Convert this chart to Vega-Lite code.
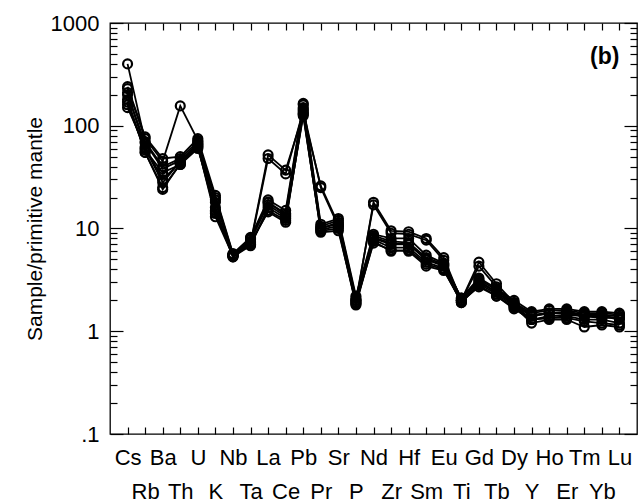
{
 "$schema": "https://vega.github.io/schema/vega-lite/v6.json",
 "width": 527, "height": 411,
 "autosize": "none",
 "padding": {"left": 110, "top": 23, "right": 7, "bottom": 69},
 "background": "white",
 "config": {
  "view": {"stroke": "black", "strokeWidth": 1.3},
  "font": "Liberation Sans",
  "axis": {"grid": false, "domain": false, "tickColor": "black", "tickWidth": 1.2, "labelColor": "black", "labelFont": "Liberation Sans", "labelFontSize": 22, "titleFont": "Liberation Sans", "titleFontSize": 21, "titleFontWeight": "normal", "titleColor": "black"}
 },
 "datasets": {
  "lab": [{"t": "(b)", "e": "Lu", "v": 470}],
  "pts": [
   {"s":1,"e":"Cs","v":210},{"s":1,"e":"Rb","v":60},{"s":1,"e":"Ba","v":28},{"s":1,"e":"Th","v":45},{"s":1,"e":"U","v":68},{"s":1,"e":"K","v":15},{"s":1,"e":"Nb","v":5.4},{"s":1,"e":"Ta","v":7.2},{"s":1,"e":"La","v":52},{"s":1,"e":"Ce","v":37},{"s":1,"e":"Pb","v":130},{"s":1,"e":"Pr","v":26},{"s":1,"e":"Sr","v":11},{"s":1,"e":"P","v":1.9},{"s":1,"e":"Nd","v":18},{"s":1,"e":"Zr","v":9.5},{"s":1,"e":"Hf","v":9.3},{"s":1,"e":"Sm","v":8},{"s":1,"e":"Eu","v":5.2},{"s":1,"e":"Ti","v":2.0},{"s":1,"e":"Gd","v":4.7},{"s":1,"e":"Tb","v":2.9},{"s":1,"e":"Dy","v":1.9},{"s":1,"e":"Y","v":1.4},{"s":1,"e":"Ho","v":1.5},{"s":1,"e":"Er","v":1.5},{"s":1,"e":"Tm","v":1.45},{"s":1,"e":"Yb","v":1.45},{"s":1,"e":"Lu","v":1.4},
   {"s":2,"e":"Cs","v":180},{"s":2,"e":"Rb","v":55},{"s":2,"e":"Ba","v":25},{"s":2,"e":"Th","v":42},{"s":2,"e":"U","v":62},{"s":2,"e":"K","v":14},{"s":2,"e":"Nb","v":5.5},{"s":2,"e":"Ta","v":7},{"s":2,"e":"La","v":48},{"s":2,"e":"Ce","v":34},{"s":2,"e":"Pb","v":140},{"s":2,"e":"Pr","v":25},{"s":2,"e":"Sr","v":10.5},{"s":2,"e":"P","v":2.0},{"s":2,"e":"Nd","v":17},{"s":2,"e":"Zr","v":9},{"s":2,"e":"Hf","v":8.8},{"s":2,"e":"Sm","v":7.7},{"s":2,"e":"Eu","v":4.9},{"s":2,"e":"Ti","v":2.0},{"s":2,"e":"Gd","v":4.3},{"s":2,"e":"Tb","v":2.7},{"s":2,"e":"Dy","v":1.8},{"s":2,"e":"Y","v":1.3},{"s":2,"e":"Ho","v":1.4},{"s":2,"e":"Er","v":1.45},{"s":2,"e":"Tm","v":1.4},{"s":2,"e":"Yb","v":1.35},{"s":2,"e":"Lu","v":1.35},
   {"s":3,"e":"Cs","v":400},{"s":3,"e":"Rb","v":70},{"s":3,"e":"Ba","v":40},{"s":3,"e":"Th","v":48},{"s":3,"e":"U","v":70},{"s":3,"e":"K","v":20},{"s":3,"e":"Nb","v":5.6},{"s":3,"e":"Ta","v":8},{"s":3,"e":"La","v":18},{"s":3,"e":"Ce","v":14},{"s":3,"e":"Pb","v":160},{"s":3,"e":"Pr","v":10.5},{"s":3,"e":"Sr","v":12},{"s":3,"e":"P","v":2.1},{"s":3,"e":"Nd","v":8.5},{"s":3,"e":"Zr","v":7.5},{"s":3,"e":"Hf","v":7.3},{"s":3,"e":"Sm","v":5.2},{"s":3,"e":"Eu","v":4.5},{"s":3,"e":"Ti","v":2.1},{"s":3,"e":"Gd","v":3.2},{"s":3,"e":"Tb","v":2.5},{"s":3,"e":"Dy","v":1.9},{"s":3,"e":"Y","v":1.5},{"s":3,"e":"Ho","v":1.6},{"s":3,"e":"Er","v":1.6},{"s":3,"e":"Tm","v":1.5},{"s":3,"e":"Yb","v":1.5},{"s":3,"e":"Lu","v":1.45},
   {"s":4,"e":"Cs","v":230},{"s":4,"e":"Rb","v":75},{"s":4,"e":"Ba","v":45},{"s":4,"e":"Th","v":156},{"s":4,"e":"U","v":72},{"s":4,"e":"K","v":19},{"s":4,"e":"Nb","v":5.5},{"s":4,"e":"Ta","v":7.8},{"s":4,"e":"La","v":17},{"s":4,"e":"Ce","v":13},{"s":4,"e":"Pb","v":150},{"s":4,"e":"Pr","v":10},{"s":4,"e":"Sr","v":11.5},{"s":4,"e":"P","v":2.0},{"s":4,"e":"Nd","v":8},{"s":4,"e":"Zr","v":7},{"s":4,"e":"Hf","v":7},{"s":4,"e":"Sm","v":5},{"s":4,"e":"Eu","v":4.3},{"s":4,"e":"Ti","v":2.0},{"s":4,"e":"Gd","v":3.0},{"s":4,"e":"Tb","v":2.4},{"s":4,"e":"Dy","v":1.8},{"s":4,"e":"Y","v":1.4},{"s":4,"e":"Ho","v":1.5},{"s":4,"e":"Er","v":1.5},{"s":4,"e":"Tm","v":1.4},{"s":4,"e":"Yb","v":1.4},{"s":4,"e":"Lu","v":1.3},
   {"s":5,"e":"Cs","v":240},{"s":5,"e":"Rb","v":78},{"s":5,"e":"Ba","v":48},{"s":5,"e":"Th","v":50},{"s":5,"e":"U","v":75},{"s":5,"e":"K","v":21},{"s":5,"e":"Nb","v":5.7},{"s":5,"e":"Ta","v":8.2},{"s":5,"e":"La","v":19},{"s":5,"e":"Ce","v":15},{"s":5,"e":"Pb","v":165},{"s":5,"e":"Pr","v":11},{"s":5,"e":"Sr","v":12.5},{"s":5,"e":"P","v":2.2},{"s":5,"e":"Nd","v":8.8},{"s":5,"e":"Zr","v":8},{"s":5,"e":"Hf","v":8},{"s":5,"e":"Sm","v":5.5},{"s":5,"e":"Eu","v":4.6},{"s":5,"e":"Ti","v":2.1},{"s":5,"e":"Gd","v":3.3},{"s":5,"e":"Tb","v":2.6},{"s":5,"e":"Dy","v":2.0},{"s":5,"e":"Y","v":1.55},{"s":5,"e":"Ho","v":1.65},{"s":5,"e":"Er","v":1.65},{"s":5,"e":"Tm","v":1.55},{"s":5,"e":"Yb","v":1.55},{"s":5,"e":"Lu","v":1.5},
   {"s":6,"e":"Cs","v":160},{"s":6,"e":"Rb","v":58},{"s":6,"e":"Ba","v":35},{"s":6,"e":"Th","v":42},{"s":6,"e":"U","v":60},{"s":6,"e":"K","v":16},{"s":6,"e":"Nb","v":5.3},{"s":6,"e":"Ta","v":7},{"s":6,"e":"La","v":15},{"s":6,"e":"Ce","v":12},{"s":6,"e":"Pb","v":130},{"s":6,"e":"Pr","v":9.5},{"s":6,"e":"Sr","v":10},{"s":6,"e":"P","v":1.8},{"s":6,"e":"Nd","v":7.5},{"s":6,"e":"Zr","v":6},{"s":6,"e":"Hf","v":6.2},{"s":6,"e":"Sm","v":4.5},{"s":6,"e":"Eu","v":4.0},{"s":6,"e":"Ti","v":1.9},{"s":6,"e":"Gd","v":2.8},{"s":6,"e":"Tb","v":2.2},{"s":6,"e":"Dy","v":1.7},{"s":6,"e":"Y","v":1.3},{"s":6,"e":"Ho","v":1.35},{"s":6,"e":"Er","v":1.4},{"s":6,"e":"Tm","v":1.3},{"s":6,"e":"Yb","v":1.3},{"s":6,"e":"Lu","v":1.2},
   {"s":7,"e":"Cs","v":150},{"s":7,"e":"Rb","v":62},{"s":7,"e":"Ba","v":30},{"s":7,"e":"Th","v":44},{"s":7,"e":"U","v":65},{"s":7,"e":"K","v":14.5},{"s":7,"e":"Nb","v":5.3},{"s":7,"e":"Ta","v":6.8},{"s":7,"e":"La","v":16},{"s":7,"e":"Ce","v":12.5},{"s":7,"e":"Pb","v":125},{"s":7,"e":"Pr","v":9.8},{"s":7,"e":"Sr","v":10.5},{"s":7,"e":"P","v":1.85},{"s":7,"e":"Nd","v":7.8},{"s":7,"e":"Zr","v":6.5},{"s":7,"e":"Hf","v":6.5},{"s":7,"e":"Sm","v":4.7},{"s":7,"e":"Eu","v":4.1},{"s":7,"e":"Ti","v":1.9},{"s":7,"e":"Gd","v":2.9},{"s":7,"e":"Tb","v":2.3},{"s":7,"e":"Dy","v":1.75},{"s":7,"e":"Y","v":1.2},{"s":7,"e":"Ho","v":1.3},{"s":7,"e":"Er","v":1.3},{"s":7,"e":"Tm","v":1.1},{"s":7,"e":"Yb","v":1.15},{"s":7,"e":"Lu","v":1.1},
   {"s":8,"e":"Cs","v":200},{"s":8,"e":"Rb","v":68},{"s":8,"e":"Ba","v":38},{"s":8,"e":"Th","v":46},{"s":8,"e":"U","v":66},{"s":8,"e":"K","v":18},{"s":8,"e":"Nb","v":5.5},{"s":8,"e":"Ta","v":7.5},{"s":8,"e":"La","v":18},{"s":8,"e":"Ce","v":13.5},{"s":8,"e":"Pb","v":145},{"s":8,"e":"Pr","v":10.2},{"s":8,"e":"Sr","v":11},{"s":8,"e":"P","v":2.0},{"s":8,"e":"Nd","v":8.2},{"s":8,"e":"Zr","v":7.2},{"s":8,"e":"Hf","v":7.0},{"s":8,"e":"Sm","v":5.0},{"s":8,"e":"Eu","v":4.4},{"s":8,"e":"Ti","v":2.0},{"s":8,"e":"Gd","v":3.1},{"s":8,"e":"Tb","v":2.4},{"s":8,"e":"Dy","v":1.85},{"s":8,"e":"Y","v":1.45},{"s":8,"e":"Ho","v":1.5},{"s":8,"e":"Er","v":1.55},{"s":8,"e":"Tm","v":1.45},{"s":8,"e":"Yb","v":1.4},{"s":8,"e":"Lu","v":1.35},
   {"s":9,"e":"Cs","v":170},{"s":9,"e":"Rb","v":55},{"s":9,"e":"Ba","v":24},{"s":9,"e":"Th","v":43},{"s":9,"e":"U","v":63},{"s":9,"e":"K","v":13},{"s":9,"e":"Nb","v":5.4},{"s":9,"e":"Ta","v":7.3},{"s":9,"e":"La","v":14.5},{"s":9,"e":"Ce","v":11.5},{"s":9,"e":"Pb","v":135},{"s":9,"e":"Pr","v":9.2},{"s":9,"e":"Sr","v":9.5},{"s":9,"e":"P","v":1.9},{"s":9,"e":"Nd","v":7.2},{"s":9,"e":"Zr","v":6.2},{"s":9,"e":"Hf","v":6.0},{"s":9,"e":"Sm","v":4.3},{"s":9,"e":"Eu","v":3.9},{"s":9,"e":"Ti","v":1.95},{"s":9,"e":"Gd","v":2.7},{"s":9,"e":"Tb","v":2.2},{"s":9,"e":"Dy","v":1.65},{"s":9,"e":"Y","v":1.3},{"s":9,"e":"Ho","v":1.35},{"s":9,"e":"Er","v":1.35},{"s":9,"e":"Tm","v":1.25},{"s":9,"e":"Yb","v":1.2},{"s":9,"e":"Lu","v":1.15}
  ]
 },
 "resolve": {"axis": {"x": "independent", "y": "independent"}},
 "layer": [
  {
   "data": {"name": "pts"},
   "mark": {"type": "line", "color": "black", "strokeWidth": 1.8},
   "encoding": {
    "x": {"field": "e", "type": "nominal",
     "scale": {"type": "point", "padding": 1, "domain": ["Cs","Rb","Ba","Th","U","K","Nb","Ta","La","Ce","Pb","Pr","Sr","P","Nd","Zr","Hf","Sm","Eu","Ti","Gd","Tb","Dy","Y","Ho","Er","Tm","Yb","Lu"]},
     "axis": {"orient": "bottom", "title": null, "labelAngle": 0, "tickSize": -7, "labelBaseline": "top", "labelOverlap": false,
      "labelPadding": {"condition": {"test": "indexof(['Rb','Th','K','Ta','Ce','Pr','P','Zr','Sm','Ti','Tb','Y','Er','Yb'], datum.value) >= 0", "value": 54}, "value": 20}}},
    "y": {"field": "v", "type": "quantitative",
     "scale": {"type": "log", "domain": [0.1, 1000], "nice": false},
     "axis": {"orient": "left", "title": "Sample/primitive mantle", "titlePadding": 5, "labelOverlap": false, "labelPadding": 24,
      "values": [0.1,0.2,0.3,0.4,0.5,0.6,0.7,0.8,0.9,1,2,3,4,5,6,7,8,9,10,20,30,40,50,60,70,80,90,100,200,300,400,500,600,700,800,900,1000],
      "tickSize": {"condition": {"test": "indexof([0.1,1,10,100,1000], datum.value) >= 0", "value": -13}, "value": -7},
      "labelExpr": "datum.value == 0.1 ? '.1' : datum.value == 1 ? '1' : datum.value == 10 ? '10' : datum.value == 100 ? '100' : datum.value == 1000 ? '1000' : ''"}},
    "detail": {"field": "s", "type": "nominal"},
    "order": {"value": null}
   }
  },
  {
   "data": {"name": "pts"},
   "mark": {"type": "point", "shape": "circle", "filled": false, "color": "black", "strokeWidth": 2.2, "size": 80, "opacity": 1},
   "encoding": {
    "x": {"field": "e", "type": "nominal", "scale": {"type": "point", "padding": 1, "domain": ["Cs","Rb","Ba","Th","U","K","Nb","Ta","La","Ce","Pb","Pr","Sr","P","Nd","Zr","Hf","Sm","Eu","Ti","Gd","Tb","Dy","Y","Ho","Er","Tm","Yb","Lu"]}, "axis": null},
    "y": {"field": "v", "type": "quantitative", "scale": {"type": "log", "domain": [0.1, 1000], "nice": false}, "axis": null}
   }
  },
  {
   "data": {"name": "lab"},
   "mark": {"type": "text", "fontSize": 23, "fontWeight": "bold", "align": "right", "baseline": "middle", "color": "black", "font": "Liberation Sans"},
   "encoding": {
    "x": {"field": "e", "type": "nominal", "scale": {"type": "point", "padding": 1, "domain": ["Cs","Rb","Ba","Th","U","K","Nb","Ta","La","Ce","Pb","Pr","Sr","P","Nd","Zr","Hf","Sm","Eu","Ti","Gd","Tb","Dy","Y","Ho","Er","Tm","Yb","Lu"]}, "axis": null},
    "y": {"field": "v", "type": "quantitative", "scale": {"type": "log", "domain": [0.1, 1000], "nice": false}, "axis": null},
    "text": {"field": "t"}
   }
  },
  {
   "data": {"name": "pts"},
   "mark": {"type": "point", "opacity": 0},
   "encoding": {
    "x": {"field": "e", "type": "nominal", "scale": {"type": "point", "padding": 1, "domain": ["Cs","Rb","Ba","Th","U","K","Nb","Ta","La","Ce","Pb","Pr","Sr","P","Nd","Zr","Hf","Sm","Eu","Ti","Gd","Tb","Dy","Y","Ho","Er","Tm","Yb","Lu"]},
     "axis": {"orient": "top", "title": null, "labels": false, "tickSize": -7}},
    "y": {"field": "v", "type": "quantitative", "scale": {"type": "log", "domain": [0.1, 1000], "nice": false},
     "axis": {"orient": "right", "title": null, "labels": false,
      "values": [0.1,0.2,0.3,0.4,0.5,0.6,0.7,0.8,0.9,1,2,3,4,5,6,7,8,9,10,20,30,40,50,60,70,80,90,100,200,300,400,500,600,700,800,900,1000],
      "tickSize": {"condition": {"test": "indexof([0.1,1,10,100,1000], datum.value) >= 0", "value": -13}, "value": -7}}}
   }
  }
 ]
}
